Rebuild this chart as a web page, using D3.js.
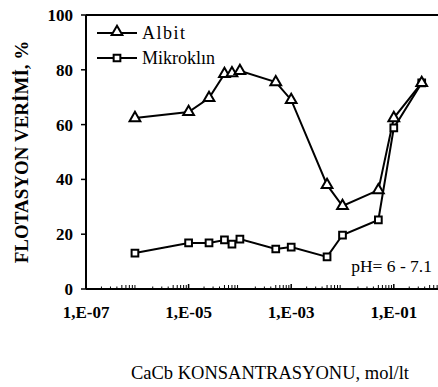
<!DOCTYPE html>
<html>
<head>
<meta charset="utf-8">
<script src="https://cdnjs.cloudflare.com/ajax/libs/d3/7.8.5/d3.min.js"></script>
<style>
  body { margin: 0; background: #fff; }
  svg { display: block; }
  text { font-family: "Liberation Serif", "Times New Roman", Tinos, "DejaVu Serif", serif; }
</style>
</head>
<body>
<div id="chart"></div>
<script>
// concentration CaCl2 (mol/lt) and recovery (%)
let albitX = [9e-7, 1e-5, 2.5e-5, 5e-5, 7e-5, 1e-4, 5e-4, 1e-3, 5e-3, 1e-2, 5e-2, 1e-1, 3.5e-1];
let albitY = [62.4, 64.6, 69.7, 78.5, 78.8, 79.6, 75.5, 69, 38, 30.3, 36.1, 62.4, 75.2];
let mikroX = [9e-7, 1e-5, 2.5e-5, 5e-5, 7e-5, 1e-4, 5e-4, 1e-3, 5e-3, 1e-2, 5e-2, 1e-1, 3.5e-1];
let mikroY = [13.1, 16.8, 16.8, 17.9, 16.4, 18.2, 14.6, 15.3, 11.7, 19.7, 25.2, 58.8, 75.2];
let xTicks = [1e-7, 1e-5, 1e-3, 1e-1];
let xTickLabels = ['1,E-07', '1,E-05', '1,E-03', '1,E-01'];
let yTicks = [0, 20, 40, 60, 80, 100];

let w = 438, h = 387;
let pLeft = 86, pTop = 15, pBottom = 289;
let decade = 51.3;

let svg = d3.select('#chart').append('svg').attr('width', w).attr('height', h);

let x = d3.scaleLog().domain([1e-7, 1]).range([pLeft, pLeft + 7 * decade]);
let y = d3.scaleLinear().domain([0, 100]).range([pBottom, pTop]);

//frame: top line, left axis, bottom axis
svg.append('line').attr('x1', pLeft).attr('x2', w).attr('y1', pTop).attr('y2', pTop)
  .attr('stroke', 'black').attr('stroke-width', 2);
svg.append('line').attr('x1', pLeft).attr('x2', pLeft).attr('y1', pTop).attr('y2', pBottom)
  .attr('stroke', 'black').attr('stroke-width', 2);
svg.append('line').attr('x1', pLeft).attr('x2', w).attr('y1', pBottom).attr('y2', pBottom)
  .attr('stroke', 'black').attr('stroke-width', 2);

//y ticks
yTicks.forEach(function(t) {
  svg.append('line').attr('x1', pLeft - 5).attr('x2', pLeft).attr('y1', y(t)).attr('y2', y(t))
    .attr('stroke', 'black').attr('stroke-width', 1.5);
  svg.append('text').text(t).attr('x', pLeft - 13).attr('y', y(t) + 6)
    .attr('text-anchor', 'end').attr('font-weight', 'bold')
    .attr('font-size', 17);
});

//x minor ticks (inside)
for (let e = -7; e < 0; e++) {
  for (let m = 2; m <= 9; m++) {
    let v = m * Math.pow(10, e);
    let len = m >= 5 ? 4 : 2.5;
    svg.append('line').attr('x1', x(v)).attr('x2', x(v)).attr('y1', pBottom).attr('y2', pBottom - len)
      .attr('stroke', 'black').attr('stroke-width', 1);
  }
}
xTicks.forEach(function(t, i) {
  svg.append('line').attr('x1', x(t)).attr('x2', x(t)).attr('y1', pBottom).attr('y2', pBottom - 5)
    .attr('stroke', 'black').attr('stroke-width', 1.5);
  svg.append('text').text(xTickLabels[i]).attr('x', x(t)).attr('y', pBottom + 29)
    .attr('text-anchor', 'middle').attr('font-weight', 'bold')
    .attr('font-size', 17);
});

//axis titles
svg.append('text').text('FLOTASYON VERİMİ, %')
  .attr('transform', `translate(28,${(pTop + pBottom) / 2}) rotate(-90)`)
  .attr('text-anchor', 'middle').attr('font-weight', 'bold')
  .attr('font-size', 19);
svg.append('text').text('CaCb KONSANTRASYONU, mol/lt').attr('x', 270).attr('y', 379)
  .attr('text-anchor', 'middle').attr('font-size', 18.5);

svg.append('text').text('pH= 6 - 7.1').attr('x', 432).attr('y', 272)
  .attr('text-anchor', 'end').attr('font-size', 17.5);

let line = d3.line().x(d => x(d[0])).y(d => y(d[1]));
let albit = albitX.map((v, i) => [v, albitY[i]]);
let mikro = mikroX.map((v, i) => [v, mikroY[i]]);

svg.append('path').attr('d', line(albit)).attr('fill', 'none').attr('stroke', 'black').attr('stroke-width', 2);
svg.append('path').attr('d', line(mikro)).attr('fill', 'none').attr('stroke', 'black').attr('stroke-width', 2);

let tri = d3.symbol().type(d3.symbolTriangle).size(50);
let sq = d3.symbol().type(d3.symbolSquare).size(45);

function triangle(cx, cy) {
  svg.append('path').attr('d', tri()).attr('transform', `translate(${cx},${cy})`)
    .attr('fill', 'white').attr('stroke', 'black').attr('stroke-width', 2);
}
function square(cx, cy) {
  svg.append('path').attr('d', sq()).attr('transform', `translate(${cx},${cy})`)
    .attr('fill', 'white').attr('stroke', 'black').attr('stroke-width', 2);
}

mikro.forEach(d => square(x(d[0]), y(d[1])));
albit.forEach(d => triangle(x(d[0]), y(d[1])));

//legend
svg.append('line').attr('x1', 97).attr('x2', 137).attr('y1', 33).attr('y2', 33).attr('stroke', 'black').attr('stroke-width', 2);
triangle(117, 32);
svg.append('text').text('Albit').attr('x', 142).attr('y', 39).attr('font-size', 18)
  .attr('letter-spacing', 1.5);
svg.append('line').attr('x1', 97).attr('x2', 137).attr('y1', 58).attr('y2', 58).attr('stroke', 'black').attr('stroke-width', 2);
square(117, 58);
svg.append('text').text('Mikroklın').attr('x', 142).attr('y', 64).attr('font-size', 18);
</script>
</body>
</html>
